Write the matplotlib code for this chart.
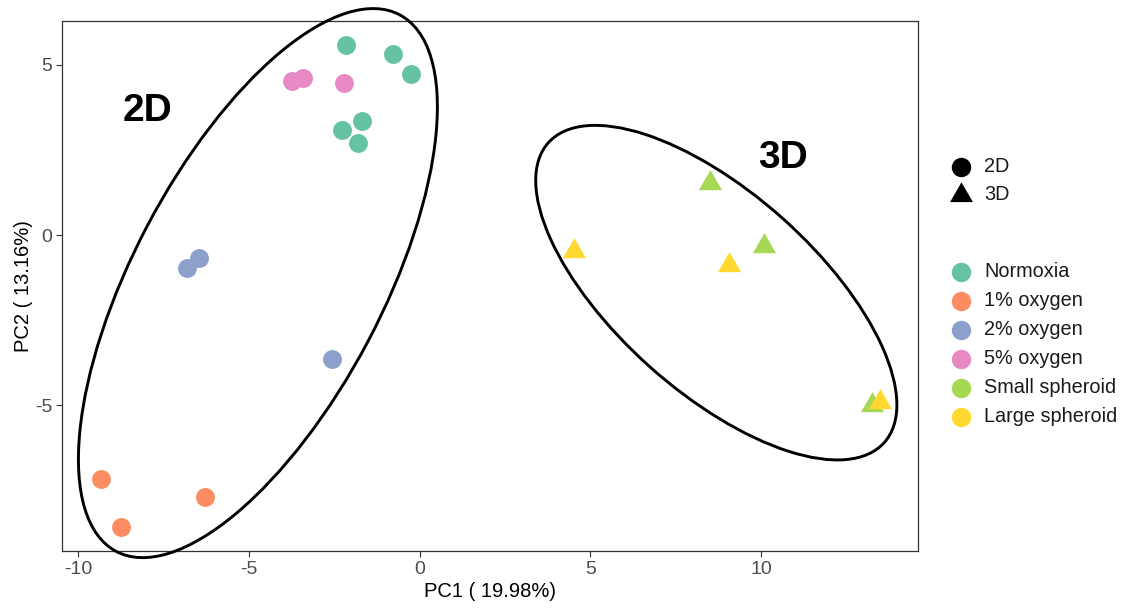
import matplotlib.pyplot as plt
import numpy as np
from matplotlib.patches import Ellipse
from matplotlib.path import Path
from matplotlib.lines import Line2D

plt.rcParams['font.family'] = ['Liberation Sans', 'DejaVu Sans']
plt.rcParams['axes.unicode_minus'] = False

# groups and Set2 colours
groups = ["Normoxia", "1% oxygen", "2% oxygen", "5% oxygen", "Small spheroid", "Large spheroid"]
colors = ["#66C2A5", "#FC8D62", "#8DA0CB", "#E78AC3", "#A6D854", "#FFD92F"]
culture = ["2D", "2D", "2D", "2D", "3D", "3D"]

# PCA scores
normoxia_pc1 = [-2.17, -0.77, -0.25, -1.70, -2.28, -1.80]
normoxia_pc2 = [5.57, 5.31, 4.72, 3.35, 3.08, 2.69]
oxy1_pc1 = [-9.34, -8.76, -6.28]
oxy1_pc2 = [-7.16, -8.57, -7.69]
oxy2_pc1 = [-6.82, -6.46, -2.58]
oxy2_pc2 = [-0.98, -0.68, -3.65]
oxy5_pc1 = [-3.75, -3.43, -2.22]
oxy5_pc2 = [4.52, 4.62, 4.45]
small_pc1 = [8.50, 10.09, 13.24]
small_pc2 = [1.54, -0.33, -5.00]
large_pc1 = [4.52, 9.06, 13.50]
large_pc2 = [-0.46, -0.87, -4.89]

pc1 = [normoxia_pc1, oxy1_pc1, oxy2_pc1, oxy5_pc1, small_pc1, large_pc1]
pc2 = [normoxia_pc2, oxy1_pc2, oxy2_pc2, oxy5_pc2, small_pc2, large_pc2]

# ellipses around the 2D and 3D samples (centre, full axes, angle)
ell_labels = ["2D", "3D"]
ell_x = [-4.74, 8.69]
ell_y = [-1.41, -1.69]
ell_w = [17.8, 13.2]
ell_h = [7.3, 5.84]
ell_angle = [62.2, -41.8]
label_x = [-7.97, 10.64]
label_y = [3.64, 2.26]

# equilateral triangle centred on its centroid, like R's pch 17
tri = Path([(0, 1), (-0.866, -0.5), (0.866, -0.5), (0, 1)],
           [Path.MOVETO, Path.LINETO, Path.LINETO, Path.CLOSEPOLY])
shape = {"2D": "o", "3D": tri}
size = {"2D": 185, "3D": 370}

fig = plt.figure(figsize=(11.28, 6.12), dpi=100)
ax = fig.add_axes([62/1128, 1 - 551/612, 856/1128, 530/612])

for g, c, cu, xs, ys in zip(groups, colors, culture, pc1, pc2):
    ax.scatter(xs, ys, s=size[cu], marker=shape[cu], color=c, linewidths=0, zorder=2)

for i in range(2):
    e = Ellipse((ell_x[i], ell_y[i]), ell_w[i], ell_h[i], angle=ell_angle[i],
                fill=False, edgecolor="black", linewidth=2.1, zorder=3, clip_on=False)
    ax.add_patch(e)
    ax.text(label_x[i], label_y[i], ell_labels[i], fontsize=28, fontweight="bold",
            ha="center", va="center")

ax.set_xlim(-10.48, 14.60)
ax.set_ylim(-9.27, 6.28)
ax.set_xticks([-10, -5, 0, 5, 10])
ax.set_yticks([-5, 0, 5])
ax.tick_params(length=4, width=0.8, color="#333333", labelcolor="#4D4D4D",
               labelsize=14, pad=3)
for sp in ax.spines.values():
    sp.set_color("#333333")
    sp.set_linewidth(0.9)

ax.set_xlabel("PC1 ( 19.98%)", fontsize=14.5, labelpad=3)
ax.set_ylabel("PC2 ( 13.16%)", fontsize=14.5)
ax.yaxis.set_label_coords(-29 / 856, 0.5)

# legends, drawn by hand to the right of the panel
lx = 960.5 / 1128
tx = 984 / 1128
def fy(py):
    return 1 - py / 612

for j, cu in enumerate(["2D", "3D"]):
    yy = fy(167 + 28 * j)
    ms = 14 if cu == "2D" else 19
    fig.add_artist(Line2D([lx], [yy], marker=shape[cu], markersize=ms, color="black",
                          markeredgewidth=0, linestyle="none", transform=fig.transFigure))
    fig.text(tx, yy, cu, fontsize=14.3, va="center", ha="left", color="#1A1A1A")

for j, (g, c) in enumerate(zip(groups, colors)):
    yy = fy(271.5 + 29 * j)
    fig.add_artist(Line2D([lx], [yy], marker="o", markersize=14, color=c,
                          markeredgewidth=0, linestyle="none", transform=fig.transFigure))
    fig.text(tx, yy, g, fontsize=14.3, va="center", ha="left", color="#1A1A1A")

fig.savefig("out.png", dpi=100)
